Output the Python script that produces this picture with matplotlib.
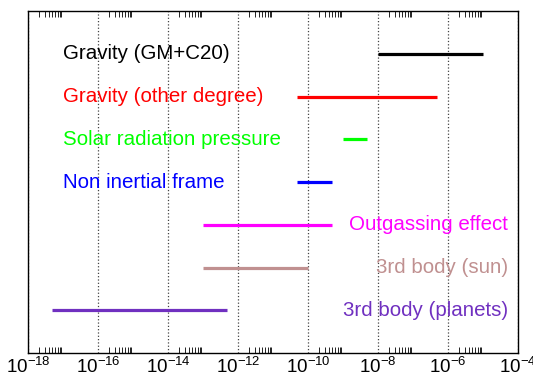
import matplotlib
matplotlib.use("Agg")
import matplotlib.pyplot as plt
import numpy as np

plt.rcParams['font.family'] = ['Liberation Sans', 'DejaVu Sans']
plt.rcParams['mathtext.fontset'] = 'custom'
plt.rcParams['mathtext.rm'] = 'Liberation Sans'
plt.rcParams['mathtext.it'] = 'Liberation Sans'

# effect names, ranges (low, high) and colours
labels = ['Gravity (GM+C20)', 'Gravity (other degree)', 'Solar radiation pressure',
          'Non inertial frame', 'Outgassing effect', '3rd body (sun)', '3rd body (planets)']
lows = [1e-8, 5e-11, 1e-9, 5e-11, 1e-13, 1e-13, 5e-18]
highs = [1e-5, 4.8e-7, 5e-9, 5e-10, 5e-10, 1e-10, 5e-13]
colors = ['#000000', '#ff0000', '#00ff00', '#0000ff', '#ff00ff', '#c09090', '#7030c0']
# text on the left for the first four rows, right for the rest
text_side = ['left', 'left', 'left', 'left', 'right', 'right', 'right']
xticks = [1e-18, 1e-16, 1e-14, 1e-12, 1e-10, 1e-8, 1e-6, 1e-4]
tick_labels = ['$10^{-18}$', '$10^{-16}$', '$10^{-14}$', '$10^{-12}$',
               '$10^{-10}$', '$10^{-8}$', '$10^{-6}$', '$10^{-4}$']

fig = plt.figure(figsize=(5.33, 3.8), dpi=100)
ax = fig.add_axes([28 / 533, 27 / 380, 490 / 533, 342 / 380])

n = len(labels)
for i in range(n):
    y = n - i
    ax.plot([lows[i], highs[i]], [y, y], color=colors[i], lw=2.3, solid_capstyle='butt')
    if text_side[i] == 'left':
        ax.text(0.071, y, labels[i], transform=ax.get_yaxis_transform(),
                color=colors[i], fontsize=14.8, ha='left', va='center')
    else:
        ax.text(0.98, y, labels[i], transform=ax.get_yaxis_transform(),
                color=colors[i], fontsize=14.8, ha='right', va='center')

ax.set_xscale('log')
ax.set_xlim(1e-18, 1e-4)
ax.set_ylim(0, 8)
ax.set_yticks([])
ax.set_xticks(xticks)
ax.set_xticklabels(tick_labels, fontsize=13.5)
minor = [k * 10.0 ** e for e in range(-18, -4, 2) for k in range(2, 10)]
ax.set_xticks(minor, minor=True)
ax.tick_params(axis='x', which='major', length=0, pad=3)
ax.tick_params(axis='x', which='minor', direction='in', length=4, width=0.6,
               top=True, bottom=True, labelbottom=False)
ax.grid(True, axis='x', which='major', linestyle=':', color='#444444', lw=0.9)
for s in ax.spines.values():
    s.set_linewidth(1.0)

fig.savefig('out.png', dpi=100)
